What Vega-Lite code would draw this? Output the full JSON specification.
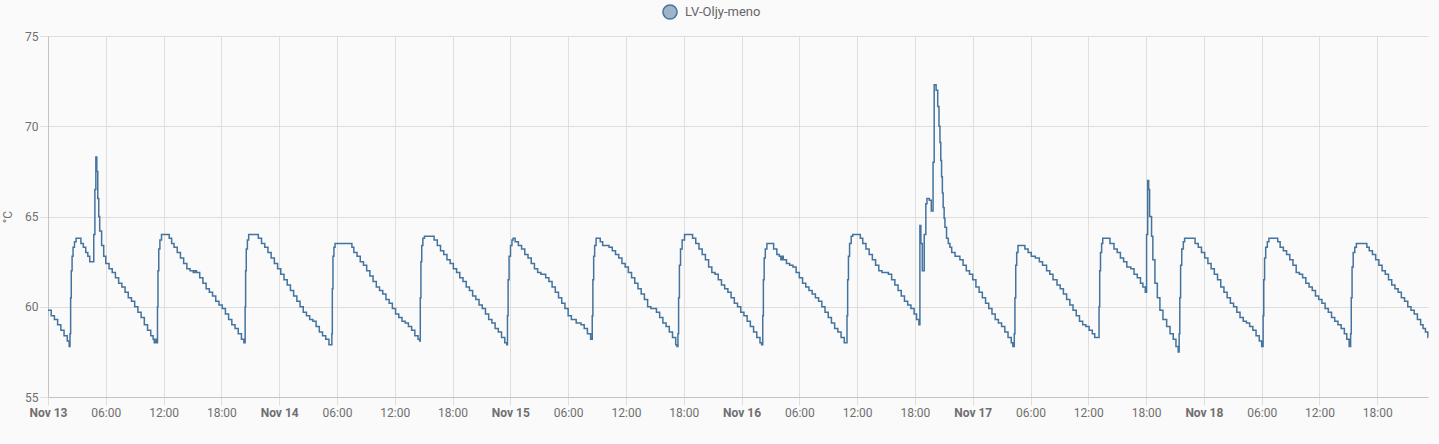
{
  "autosize": {"type": "none"},
  "padding": {"left": 48, "top": 36, "right": 11, "bottom": 47},
  "width": 1380,
  "height": 361,
  "background": "#fafafa",
  "config": {
    "view": {"stroke": null},
    "font": "Roboto",
    "axis": {
      "labelFont": "Roboto",
      "labelFontSize": 12,
      "labelColor": "#6f6f6f",
      "titleFont": "Roboto",
      "titleFontSize": 12,
      "titleFontWeight": "normal",
      "titleColor": "#6f6f6f",
      "gridColor": "#dedede",
      "gridOpacity": 1,
      "tickColor": "#dedede",
      "domainColor": "#c4c4c4",
      "tickSize": 8,
      "labelPadding": 2
    }
  },
  "data": {
    "values": [
      {"s": "LV-Oljy-meno", "t": "2023-11-13T00:00", "v": 59.8}, {"s": "LV-Oljy-meno", "t": "2023-11-13T00:20", "v": 59.5}, {"s": "LV-Oljy-meno", "t": "2023-11-13T00:40", "v": 59.3}, {"s": "LV-Oljy-meno", "t": "2023-11-13T01:00", "v": 59.0},
      {"s": "LV-Oljy-meno", "t": "2023-11-13T01:20", "v": 58.7}, {"s": "LV-Oljy-meno", "t": "2023-11-13T01:40", "v": 58.4}, {"s": "LV-Oljy-meno", "t": "2023-11-13T02:00", "v": 58.1}, {"s": "LV-Oljy-meno", "t": "2023-11-13T02:12", "v": 57.8},
      {"s": "LV-Oljy-meno", "t": "2023-11-13T02:17", "v": 58.5}, {"s": "LV-Oljy-meno", "t": "2023-11-13T02:21", "v": 60.5}, {"s": "LV-Oljy-meno", "t": "2023-11-13T02:25", "v": 62.0}, {"s": "LV-Oljy-meno", "t": "2023-11-13T02:30", "v": 62.8},
      {"s": "LV-Oljy-meno", "t": "2023-11-13T02:36", "v": 63.3}, {"s": "LV-Oljy-meno", "t": "2023-11-13T02:45", "v": 63.6}, {"s": "LV-Oljy-meno", "t": "2023-11-13T02:55", "v": 63.8}, {"s": "LV-Oljy-meno", "t": "2023-11-13T03:25", "v": 63.5},
      {"s": "LV-Oljy-meno", "t": "2023-11-13T03:40", "v": 63.3}, {"s": "LV-Oljy-meno", "t": "2023-11-13T03:55", "v": 63.0}, {"s": "LV-Oljy-meno", "t": "2023-11-13T04:08", "v": 62.8}, {"s": "LV-Oljy-meno", "t": "2023-11-13T04:20", "v": 62.5},
      {"s": "LV-Oljy-meno", "t": "2023-11-13T04:45", "v": 64.0}, {"s": "LV-Oljy-meno", "t": "2023-11-13T04:52", "v": 66.5}, {"s": "LV-Oljy-meno", "t": "2023-11-13T04:58", "v": 68.3}, {"s": "LV-Oljy-meno", "t": "2023-11-13T05:04", "v": 67.5},
      {"s": "LV-Oljy-meno", "t": "2023-11-13T05:10", "v": 66.0}, {"s": "LV-Oljy-meno", "t": "2023-11-13T05:16", "v": 65.0}, {"s": "LV-Oljy-meno", "t": "2023-11-13T05:22", "v": 64.2}, {"s": "LV-Oljy-meno", "t": "2023-11-13T05:34", "v": 63.4},
      {"s": "LV-Oljy-meno", "t": "2023-11-13T05:47", "v": 62.8}, {"s": "LV-Oljy-meno", "t": "2023-11-13T06:00", "v": 62.4}, {"s": "LV-Oljy-meno", "t": "2023-11-13T06:20", "v": 62.1}, {"s": "LV-Oljy-meno", "t": "2023-11-13T06:40", "v": 61.9},
      {"s": "LV-Oljy-meno", "t": "2023-11-13T07:00", "v": 61.6}, {"s": "LV-Oljy-meno", "t": "2023-11-13T07:20", "v": 61.3}, {"s": "LV-Oljy-meno", "t": "2023-11-13T07:40", "v": 61.1}, {"s": "LV-Oljy-meno", "t": "2023-11-13T08:00", "v": 60.8},
      {"s": "LV-Oljy-meno", "t": "2023-11-13T08:20", "v": 60.5}, {"s": "LV-Oljy-meno", "t": "2023-11-13T08:40", "v": 60.3}, {"s": "LV-Oljy-meno", "t": "2023-11-13T09:00", "v": 60.0}, {"s": "LV-Oljy-meno", "t": "2023-11-13T09:20", "v": 59.7},
      {"s": "LV-Oljy-meno", "t": "2023-11-13T09:40", "v": 59.4}, {"s": "LV-Oljy-meno", "t": "2023-11-13T10:00", "v": 59.0}, {"s": "LV-Oljy-meno", "t": "2023-11-13T10:20", "v": 58.7}, {"s": "LV-Oljy-meno", "t": "2023-11-13T10:40", "v": 58.4},
      {"s": "LV-Oljy-meno", "t": "2023-11-13T10:55", "v": 58.2}, {"s": "LV-Oljy-meno", "t": "2023-11-13T11:02", "v": 58.0}, {"s": "LV-Oljy-meno", "t": "2023-11-13T11:08", "v": 58.2}, {"s": "LV-Oljy-meno", "t": "2023-11-13T11:13", "v": 58.0},
      {"s": "LV-Oljy-meno", "t": "2023-11-13T11:22", "v": 60.0}, {"s": "LV-Oljy-meno", "t": "2023-11-13T11:25", "v": 62.0}, {"s": "LV-Oljy-meno", "t": "2023-11-13T11:30", "v": 63.2}, {"s": "LV-Oljy-meno", "t": "2023-11-13T11:37", "v": 63.7},
      {"s": "LV-Oljy-meno", "t": "2023-11-13T11:47", "v": 64.0}, {"s": "LV-Oljy-meno", "t": "2023-11-13T12:35", "v": 63.8}, {"s": "LV-Oljy-meno", "t": "2023-11-13T12:50", "v": 63.5}, {"s": "LV-Oljy-meno", "t": "2023-11-13T13:05", "v": 63.3},
      {"s": "LV-Oljy-meno", "t": "2023-11-13T13:25", "v": 63.0}, {"s": "LV-Oljy-meno", "t": "2023-11-13T13:45", "v": 62.7}, {"s": "LV-Oljy-meno", "t": "2023-11-13T14:05", "v": 62.4}, {"s": "LV-Oljy-meno", "t": "2023-11-13T14:25", "v": 62.1},
      {"s": "LV-Oljy-meno", "t": "2023-11-13T14:45", "v": 62.0}, {"s": "LV-Oljy-meno", "t": "2023-11-13T15:05", "v": 61.9}, {"s": "LV-Oljy-meno", "t": "2023-11-13T15:15", "v": 62.0}, {"s": "LV-Oljy-meno", "t": "2023-11-13T15:25", "v": 61.9},
      {"s": "LV-Oljy-meno", "t": "2023-11-13T15:45", "v": 61.6}, {"s": "LV-Oljy-meno", "t": "2023-11-13T16:05", "v": 61.3}, {"s": "LV-Oljy-meno", "t": "2023-11-13T16:25", "v": 61.0}, {"s": "LV-Oljy-meno", "t": "2023-11-13T16:45", "v": 60.8},
      {"s": "LV-Oljy-meno", "t": "2023-11-13T17:05", "v": 60.6}, {"s": "LV-Oljy-meno", "t": "2023-11-13T17:25", "v": 60.3}, {"s": "LV-Oljy-meno", "t": "2023-11-13T17:45", "v": 60.1}, {"s": "LV-Oljy-meno", "t": "2023-11-13T18:05", "v": 59.9},
      {"s": "LV-Oljy-meno", "t": "2023-11-13T18:25", "v": 59.6}, {"s": "LV-Oljy-meno", "t": "2023-11-13T18:45", "v": 59.3}, {"s": "LV-Oljy-meno", "t": "2023-11-13T19:05", "v": 59.0}, {"s": "LV-Oljy-meno", "t": "2023-11-13T19:25", "v": 58.8},
      {"s": "LV-Oljy-meno", "t": "2023-11-13T19:45", "v": 58.5}, {"s": "LV-Oljy-meno", "t": "2023-11-13T20:05", "v": 58.2}, {"s": "LV-Oljy-meno", "t": "2023-11-13T20:20", "v": 58.0}, {"s": "LV-Oljy-meno", "t": "2023-11-13T20:28", "v": 60.0},
      {"s": "LV-Oljy-meno", "t": "2023-11-13T20:31", "v": 62.0}, {"s": "LV-Oljy-meno", "t": "2023-11-13T20:35", "v": 63.2}, {"s": "LV-Oljy-meno", "t": "2023-11-13T20:42", "v": 63.7}, {"s": "LV-Oljy-meno", "t": "2023-11-13T20:50", "v": 64.0},
      {"s": "LV-Oljy-meno", "t": "2023-11-13T21:50", "v": 63.8}, {"s": "LV-Oljy-meno", "t": "2023-11-13T22:10", "v": 63.5}, {"s": "LV-Oljy-meno", "t": "2023-11-13T22:30", "v": 63.3}, {"s": "LV-Oljy-meno", "t": "2023-11-13T22:50", "v": 63.0},
      {"s": "LV-Oljy-meno", "t": "2023-11-13T23:10", "v": 62.7}, {"s": "LV-Oljy-meno", "t": "2023-11-13T23:30", "v": 62.4}, {"s": "LV-Oljy-meno", "t": "2023-11-13T23:50", "v": 62.1}, {"s": "LV-Oljy-meno", "t": "2023-11-14T00:10", "v": 61.8},
      {"s": "LV-Oljy-meno", "t": "2023-11-14T00:30", "v": 61.5}, {"s": "LV-Oljy-meno", "t": "2023-11-14T00:50", "v": 61.2}, {"s": "LV-Oljy-meno", "t": "2023-11-14T01:10", "v": 60.9}, {"s": "LV-Oljy-meno", "t": "2023-11-14T01:30", "v": 60.6},
      {"s": "LV-Oljy-meno", "t": "2023-11-14T01:50", "v": 60.3}, {"s": "LV-Oljy-meno", "t": "2023-11-14T02:10", "v": 60.0}, {"s": "LV-Oljy-meno", "t": "2023-11-14T02:30", "v": 59.7}, {"s": "LV-Oljy-meno", "t": "2023-11-14T02:50", "v": 59.5},
      {"s": "LV-Oljy-meno", "t": "2023-11-14T03:10", "v": 59.3}, {"s": "LV-Oljy-meno", "t": "2023-11-14T03:30", "v": 59.2}, {"s": "LV-Oljy-meno", "t": "2023-11-14T03:50", "v": 58.9}, {"s": "LV-Oljy-meno", "t": "2023-11-14T04:10", "v": 58.6},
      {"s": "LV-Oljy-meno", "t": "2023-11-14T04:30", "v": 58.4}, {"s": "LV-Oljy-meno", "t": "2023-11-14T04:50", "v": 58.2}, {"s": "LV-Oljy-meno", "t": "2023-11-14T05:10", "v": 57.9}, {"s": "LV-Oljy-meno", "t": "2023-11-14T05:28", "v": 58.5},
      {"s": "LV-Oljy-meno", "t": "2023-11-14T05:31", "v": 61.0}, {"s": "LV-Oljy-meno", "t": "2023-11-14T05:35", "v": 62.8}, {"s": "LV-Oljy-meno", "t": "2023-11-14T05:41", "v": 63.3}, {"s": "LV-Oljy-meno", "t": "2023-11-14T05:48", "v": 63.5},
      {"s": "LV-Oljy-meno", "t": "2023-11-14T07:33", "v": 63.3}, {"s": "LV-Oljy-meno", "t": "2023-11-14T07:45", "v": 63.0}, {"s": "LV-Oljy-meno", "t": "2023-11-14T08:05", "v": 62.8}, {"s": "LV-Oljy-meno", "t": "2023-11-14T08:25", "v": 62.5},
      {"s": "LV-Oljy-meno", "t": "2023-11-14T08:45", "v": 62.3}, {"s": "LV-Oljy-meno", "t": "2023-11-14T09:05", "v": 62.0}, {"s": "LV-Oljy-meno", "t": "2023-11-14T09:25", "v": 61.7}, {"s": "LV-Oljy-meno", "t": "2023-11-14T09:45", "v": 61.4},
      {"s": "LV-Oljy-meno", "t": "2023-11-14T10:05", "v": 61.1}, {"s": "LV-Oljy-meno", "t": "2023-11-14T10:25", "v": 60.9}, {"s": "LV-Oljy-meno", "t": "2023-11-14T10:45", "v": 60.7}, {"s": "LV-Oljy-meno", "t": "2023-11-14T11:05", "v": 60.4},
      {"s": "LV-Oljy-meno", "t": "2023-11-14T11:25", "v": 60.2}, {"s": "LV-Oljy-meno", "t": "2023-11-14T11:45", "v": 59.9}, {"s": "LV-Oljy-meno", "t": "2023-11-14T12:05", "v": 59.6}, {"s": "LV-Oljy-meno", "t": "2023-11-14T12:25", "v": 59.4},
      {"s": "LV-Oljy-meno", "t": "2023-11-14T12:45", "v": 59.2}, {"s": "LV-Oljy-meno", "t": "2023-11-14T13:05", "v": 59.1}, {"s": "LV-Oljy-meno", "t": "2023-11-14T13:25", "v": 58.9}, {"s": "LV-Oljy-meno", "t": "2023-11-14T13:45", "v": 58.7},
      {"s": "LV-Oljy-meno", "t": "2023-11-14T14:05", "v": 58.4}, {"s": "LV-Oljy-meno", "t": "2023-11-14T14:25", "v": 58.2}, {"s": "LV-Oljy-meno", "t": "2023-11-14T14:35", "v": 58.1}, {"s": "LV-Oljy-meno", "t": "2023-11-14T14:39", "v": 60.5},
      {"s": "LV-Oljy-meno", "t": "2023-11-14T14:43", "v": 62.5}, {"s": "LV-Oljy-meno", "t": "2023-11-14T14:48", "v": 63.4}, {"s": "LV-Oljy-meno", "t": "2023-11-14T14:55", "v": 63.8}, {"s": "LV-Oljy-meno", "t": "2023-11-14T15:05", "v": 63.9},
      {"s": "LV-Oljy-meno", "t": "2023-11-14T16:05", "v": 63.7}, {"s": "LV-Oljy-meno", "t": "2023-11-14T16:25", "v": 63.4}, {"s": "LV-Oljy-meno", "t": "2023-11-14T16:45", "v": 63.1}, {"s": "LV-Oljy-meno", "t": "2023-11-14T17:05", "v": 62.9},
      {"s": "LV-Oljy-meno", "t": "2023-11-14T17:25", "v": 62.6}, {"s": "LV-Oljy-meno", "t": "2023-11-14T17:45", "v": 62.4}, {"s": "LV-Oljy-meno", "t": "2023-11-14T18:05", "v": 62.1}, {"s": "LV-Oljy-meno", "t": "2023-11-14T18:25", "v": 61.9},
      {"s": "LV-Oljy-meno", "t": "2023-11-14T18:45", "v": 61.6}, {"s": "LV-Oljy-meno", "t": "2023-11-14T19:05", "v": 61.4}, {"s": "LV-Oljy-meno", "t": "2023-11-14T19:25", "v": 61.1}, {"s": "LV-Oljy-meno", "t": "2023-11-14T19:45", "v": 60.9},
      {"s": "LV-Oljy-meno", "t": "2023-11-14T20:05", "v": 60.6}, {"s": "LV-Oljy-meno", "t": "2023-11-14T20:25", "v": 60.4}, {"s": "LV-Oljy-meno", "t": "2023-11-14T20:45", "v": 60.1}, {"s": "LV-Oljy-meno", "t": "2023-11-14T21:05", "v": 59.9},
      {"s": "LV-Oljy-meno", "t": "2023-11-14T21:25", "v": 59.6}, {"s": "LV-Oljy-meno", "t": "2023-11-14T21:45", "v": 59.3}, {"s": "LV-Oljy-meno", "t": "2023-11-14T22:05", "v": 59.1}, {"s": "LV-Oljy-meno", "t": "2023-11-14T22:25", "v": 58.8},
      {"s": "LV-Oljy-meno", "t": "2023-11-14T22:45", "v": 58.6}, {"s": "LV-Oljy-meno", "t": "2023-11-14T23:05", "v": 58.3}, {"s": "LV-Oljy-meno", "t": "2023-11-14T23:25", "v": 58.0}, {"s": "LV-Oljy-meno", "t": "2023-11-14T23:38", "v": 57.9},
      {"s": "LV-Oljy-meno", "t": "2023-11-14T23:42", "v": 59.5}, {"s": "LV-Oljy-meno", "t": "2023-11-14T23:46", "v": 61.5}, {"s": "LV-Oljy-meno", "t": "2023-11-14T23:52", "v": 62.8}, {"s": "LV-Oljy-meno", "t": "2023-11-15T00:01", "v": 63.4},
      {"s": "LV-Oljy-meno", "t": "2023-11-15T00:10", "v": 63.7}, {"s": "LV-Oljy-meno", "t": "2023-11-15T00:17", "v": 63.8}, {"s": "LV-Oljy-meno", "t": "2023-11-15T00:30", "v": 63.6}, {"s": "LV-Oljy-meno", "t": "2023-11-15T00:50", "v": 63.4},
      {"s": "LV-Oljy-meno", "t": "2023-11-15T01:10", "v": 63.2}, {"s": "LV-Oljy-meno", "t": "2023-11-15T01:30", "v": 62.9}, {"s": "LV-Oljy-meno", "t": "2023-11-15T01:50", "v": 62.7}, {"s": "LV-Oljy-meno", "t": "2023-11-15T02:10", "v": 62.4},
      {"s": "LV-Oljy-meno", "t": "2023-11-15T02:30", "v": 62.1}, {"s": "LV-Oljy-meno", "t": "2023-11-15T02:50", "v": 61.9}, {"s": "LV-Oljy-meno", "t": "2023-11-15T03:10", "v": 61.8}, {"s": "LV-Oljy-meno", "t": "2023-11-15T03:40", "v": 61.6},
      {"s": "LV-Oljy-meno", "t": "2023-11-15T04:00", "v": 61.4}, {"s": "LV-Oljy-meno", "t": "2023-11-15T04:20", "v": 61.1}, {"s": "LV-Oljy-meno", "t": "2023-11-15T04:40", "v": 60.8}, {"s": "LV-Oljy-meno", "t": "2023-11-15T05:00", "v": 60.5},
      {"s": "LV-Oljy-meno", "t": "2023-11-15T05:20", "v": 60.2}, {"s": "LV-Oljy-meno", "t": "2023-11-15T05:40", "v": 59.9}, {"s": "LV-Oljy-meno", "t": "2023-11-15T06:00", "v": 59.5}, {"s": "LV-Oljy-meno", "t": "2023-11-15T06:20", "v": 59.3},
      {"s": "LV-Oljy-meno", "t": "2023-11-15T06:50", "v": 59.1}, {"s": "LV-Oljy-meno", "t": "2023-11-15T07:20", "v": 59.0}, {"s": "LV-Oljy-meno", "t": "2023-11-15T07:40", "v": 58.8}, {"s": "LV-Oljy-meno", "t": "2023-11-15T08:00", "v": 58.5},
      {"s": "LV-Oljy-meno", "t": "2023-11-15T08:20", "v": 58.2}, {"s": "LV-Oljy-meno", "t": "2023-11-15T08:30", "v": 59.5}, {"s": "LV-Oljy-meno", "t": "2023-11-15T08:34", "v": 61.5}, {"s": "LV-Oljy-meno", "t": "2023-11-15T08:39", "v": 62.8},
      {"s": "LV-Oljy-meno", "t": "2023-11-15T08:45", "v": 63.4}, {"s": "LV-Oljy-meno", "t": "2023-11-15T08:54", "v": 63.8}, {"s": "LV-Oljy-meno", "t": "2023-11-15T09:20", "v": 63.6}, {"s": "LV-Oljy-meno", "t": "2023-11-15T09:35", "v": 63.4},
      {"s": "LV-Oljy-meno", "t": "2023-11-15T10:15", "v": 63.3}, {"s": "LV-Oljy-meno", "t": "2023-11-15T10:35", "v": 63.1}, {"s": "LV-Oljy-meno", "t": "2023-11-15T10:55", "v": 62.9}, {"s": "LV-Oljy-meno", "t": "2023-11-15T11:15", "v": 62.7},
      {"s": "LV-Oljy-meno", "t": "2023-11-15T11:35", "v": 62.4}, {"s": "LV-Oljy-meno", "t": "2023-11-15T11:55", "v": 62.2}, {"s": "LV-Oljy-meno", "t": "2023-11-15T12:15", "v": 61.9}, {"s": "LV-Oljy-meno", "t": "2023-11-15T12:35", "v": 61.6},
      {"s": "LV-Oljy-meno", "t": "2023-11-15T12:55", "v": 61.3}, {"s": "LV-Oljy-meno", "t": "2023-11-15T13:15", "v": 61.0}, {"s": "LV-Oljy-meno", "t": "2023-11-15T13:35", "v": 60.7}, {"s": "LV-Oljy-meno", "t": "2023-11-15T13:55", "v": 60.4},
      {"s": "LV-Oljy-meno", "t": "2023-11-15T14:15", "v": 60.0}, {"s": "LV-Oljy-meno", "t": "2023-11-15T14:35", "v": 59.9}, {"s": "LV-Oljy-meno", "t": "2023-11-15T15:10", "v": 59.7}, {"s": "LV-Oljy-meno", "t": "2023-11-15T15:30", "v": 59.4},
      {"s": "LV-Oljy-meno", "t": "2023-11-15T15:50", "v": 59.1}, {"s": "LV-Oljy-meno", "t": "2023-11-15T16:10", "v": 58.9}, {"s": "LV-Oljy-meno", "t": "2023-11-15T16:30", "v": 58.6}, {"s": "LV-Oljy-meno", "t": "2023-11-15T16:50", "v": 58.3},
      {"s": "LV-Oljy-meno", "t": "2023-11-15T17:10", "v": 57.9}, {"s": "LV-Oljy-meno", "t": "2023-11-15T17:18", "v": 57.8}, {"s": "LV-Oljy-meno", "t": "2023-11-15T17:24", "v": 58.5}, {"s": "LV-Oljy-meno", "t": "2023-11-15T17:28", "v": 60.5},
      {"s": "LV-Oljy-meno", "t": "2023-11-15T17:33", "v": 62.3}, {"s": "LV-Oljy-meno", "t": "2023-11-15T17:40", "v": 63.2}, {"s": "LV-Oljy-meno", "t": "2023-11-15T17:50", "v": 63.7}, {"s": "LV-Oljy-meno", "t": "2023-11-15T18:05", "v": 64.0},
      {"s": "LV-Oljy-meno", "t": "2023-11-15T18:55", "v": 63.8}, {"s": "LV-Oljy-meno", "t": "2023-11-15T19:15", "v": 63.5}, {"s": "LV-Oljy-meno", "t": "2023-11-15T19:35", "v": 63.2}, {"s": "LV-Oljy-meno", "t": "2023-11-15T19:55", "v": 62.9},
      {"s": "LV-Oljy-meno", "t": "2023-11-15T20:15", "v": 62.6}, {"s": "LV-Oljy-meno", "t": "2023-11-15T20:35", "v": 62.2}, {"s": "LV-Oljy-meno", "t": "2023-11-15T20:55", "v": 61.9}, {"s": "LV-Oljy-meno", "t": "2023-11-15T21:15", "v": 61.8},
      {"s": "LV-Oljy-meno", "t": "2023-11-15T21:35", "v": 61.5}, {"s": "LV-Oljy-meno", "t": "2023-11-15T21:55", "v": 61.2}, {"s": "LV-Oljy-meno", "t": "2023-11-15T22:15", "v": 61.0}, {"s": "LV-Oljy-meno", "t": "2023-11-15T22:35", "v": 60.8},
      {"s": "LV-Oljy-meno", "t": "2023-11-15T22:55", "v": 60.5}, {"s": "LV-Oljy-meno", "t": "2023-11-15T23:15", "v": 60.2}, {"s": "LV-Oljy-meno", "t": "2023-11-15T23:35", "v": 60.0}, {"s": "LV-Oljy-meno", "t": "2023-11-15T23:55", "v": 59.7},
      {"s": "LV-Oljy-meno", "t": "2023-11-16T00:15", "v": 59.5}, {"s": "LV-Oljy-meno", "t": "2023-11-16T00:35", "v": 59.2}, {"s": "LV-Oljy-meno", "t": "2023-11-16T00:55", "v": 58.9}, {"s": "LV-Oljy-meno", "t": "2023-11-16T01:15", "v": 58.6},
      {"s": "LV-Oljy-meno", "t": "2023-11-16T01:35", "v": 58.3}, {"s": "LV-Oljy-meno", "t": "2023-11-16T01:55", "v": 58.0}, {"s": "LV-Oljy-meno", "t": "2023-11-16T02:05", "v": 57.9}, {"s": "LV-Oljy-meno", "t": "2023-11-16T02:12", "v": 59.5},
      {"s": "LV-Oljy-meno", "t": "2023-11-16T02:16", "v": 61.5}, {"s": "LV-Oljy-meno", "t": "2023-11-16T02:21", "v": 62.7}, {"s": "LV-Oljy-meno", "t": "2023-11-16T02:28", "v": 63.2}, {"s": "LV-Oljy-meno", "t": "2023-11-16T02:38", "v": 63.5},
      {"s": "LV-Oljy-meno", "t": "2023-11-16T03:20", "v": 63.2}, {"s": "LV-Oljy-meno", "t": "2023-11-16T03:40", "v": 62.9}, {"s": "LV-Oljy-meno", "t": "2023-11-16T03:55", "v": 62.8}, {"s": "LV-Oljy-meno", "t": "2023-11-16T04:05", "v": 62.6},
      {"s": "LV-Oljy-meno", "t": "2023-11-16T04:12", "v": 62.8}, {"s": "LV-Oljy-meno", "t": "2023-11-16T04:20", "v": 62.6}, {"s": "LV-Oljy-meno", "t": "2023-11-16T04:40", "v": 62.4}, {"s": "LV-Oljy-meno", "t": "2023-11-16T05:00", "v": 62.3},
      {"s": "LV-Oljy-meno", "t": "2023-11-16T05:20", "v": 62.2}, {"s": "LV-Oljy-meno", "t": "2023-11-16T05:40", "v": 61.9}, {"s": "LV-Oljy-meno", "t": "2023-11-16T06:00", "v": 61.6}, {"s": "LV-Oljy-meno", "t": "2023-11-16T06:20", "v": 61.3},
      {"s": "LV-Oljy-meno", "t": "2023-11-16T06:40", "v": 61.1}, {"s": "LV-Oljy-meno", "t": "2023-11-16T07:00", "v": 60.9}, {"s": "LV-Oljy-meno", "t": "2023-11-16T07:20", "v": 60.7}, {"s": "LV-Oljy-meno", "t": "2023-11-16T07:40", "v": 60.5},
      {"s": "LV-Oljy-meno", "t": "2023-11-16T08:00", "v": 60.3}, {"s": "LV-Oljy-meno", "t": "2023-11-16T08:20", "v": 60.0}, {"s": "LV-Oljy-meno", "t": "2023-11-16T08:40", "v": 59.7}, {"s": "LV-Oljy-meno", "t": "2023-11-16T09:00", "v": 59.4},
      {"s": "LV-Oljy-meno", "t": "2023-11-16T09:20", "v": 59.1}, {"s": "LV-Oljy-meno", "t": "2023-11-16T09:40", "v": 58.8}, {"s": "LV-Oljy-meno", "t": "2023-11-16T10:00", "v": 58.6}, {"s": "LV-Oljy-meno", "t": "2023-11-16T10:20", "v": 58.3},
      {"s": "LV-Oljy-meno", "t": "2023-11-16T10:40", "v": 58.0}, {"s": "LV-Oljy-meno", "t": "2023-11-16T10:57", "v": 59.5}, {"s": "LV-Oljy-meno", "t": "2023-11-16T11:01", "v": 61.5}, {"s": "LV-Oljy-meno", "t": "2023-11-16T11:06", "v": 62.8},
      {"s": "LV-Oljy-meno", "t": "2023-11-16T11:13", "v": 63.5}, {"s": "LV-Oljy-meno", "t": "2023-11-16T11:23", "v": 63.9}, {"s": "LV-Oljy-meno", "t": "2023-11-16T11:33", "v": 64.0}, {"s": "LV-Oljy-meno", "t": "2023-11-16T12:20", "v": 63.8},
      {"s": "LV-Oljy-meno", "t": "2023-11-16T12:35", "v": 63.5}, {"s": "LV-Oljy-meno", "t": "2023-11-16T12:55", "v": 63.2}, {"s": "LV-Oljy-meno", "t": "2023-11-16T13:15", "v": 62.9}, {"s": "LV-Oljy-meno", "t": "2023-11-16T13:35", "v": 62.6},
      {"s": "LV-Oljy-meno", "t": "2023-11-16T13:55", "v": 62.3}, {"s": "LV-Oljy-meno", "t": "2023-11-16T14:15", "v": 62.0}, {"s": "LV-Oljy-meno", "t": "2023-11-16T14:35", "v": 61.9}, {"s": "LV-Oljy-meno", "t": "2023-11-16T15:15", "v": 61.8},
      {"s": "LV-Oljy-meno", "t": "2023-11-16T15:35", "v": 61.5}, {"s": "LV-Oljy-meno", "t": "2023-11-16T15:55", "v": 61.2}, {"s": "LV-Oljy-meno", "t": "2023-11-16T16:15", "v": 60.9}, {"s": "LV-Oljy-meno", "t": "2023-11-16T16:35", "v": 60.6},
      {"s": "LV-Oljy-meno", "t": "2023-11-16T16:55", "v": 60.3}, {"s": "LV-Oljy-meno", "t": "2023-11-16T17:15", "v": 60.1}, {"s": "LV-Oljy-meno", "t": "2023-11-16T17:35", "v": 59.9}, {"s": "LV-Oljy-meno", "t": "2023-11-16T17:55", "v": 59.6},
      {"s": "LV-Oljy-meno", "t": "2023-11-16T18:10", "v": 59.3}, {"s": "LV-Oljy-meno", "t": "2023-11-16T18:25", "v": 59.0}, {"s": "LV-Oljy-meno", "t": "2023-11-16T18:31", "v": 64.5}, {"s": "LV-Oljy-meno", "t": "2023-11-16T18:37", "v": 63.5},
      {"s": "LV-Oljy-meno", "t": "2023-11-16T18:46", "v": 62.0}, {"s": "LV-Oljy-meno", "t": "2023-11-16T18:58", "v": 64.0}, {"s": "LV-Oljy-meno", "t": "2023-11-16T19:08", "v": 65.7}, {"s": "LV-Oljy-meno", "t": "2023-11-16T19:15", "v": 66.0},
      {"s": "LV-Oljy-meno", "t": "2023-11-16T19:30", "v": 65.9}, {"s": "LV-Oljy-meno", "t": "2023-11-16T19:42", "v": 65.3}, {"s": "LV-Oljy-meno", "t": "2023-11-16T19:53", "v": 68.0}, {"s": "LV-Oljy-meno", "t": "2023-11-16T20:00", "v": 72.3},
      {"s": "LV-Oljy-meno", "t": "2023-11-16T20:12", "v": 72.0}, {"s": "LV-Oljy-meno", "t": "2023-11-16T20:22", "v": 71.1}, {"s": "LV-Oljy-meno", "t": "2023-11-16T20:30", "v": 70.0}, {"s": "LV-Oljy-meno", "t": "2023-11-16T20:36", "v": 69.1},
      {"s": "LV-Oljy-meno", "t": "2023-11-16T20:41", "v": 68.1}, {"s": "LV-Oljy-meno", "t": "2023-11-16T20:46", "v": 67.2}, {"s": "LV-Oljy-meno", "t": "2023-11-16T20:51", "v": 66.3}, {"s": "LV-Oljy-meno", "t": "2023-11-16T20:56", "v": 65.5},
      {"s": "LV-Oljy-meno", "t": "2023-11-16T21:02", "v": 64.9}, {"s": "LV-Oljy-meno", "t": "2023-11-16T21:07", "v": 64.4}, {"s": "LV-Oljy-meno", "t": "2023-11-16T21:17", "v": 63.8}, {"s": "LV-Oljy-meno", "t": "2023-11-16T21:28", "v": 63.5},
      {"s": "LV-Oljy-meno", "t": "2023-11-16T21:38", "v": 63.3}, {"s": "LV-Oljy-meno", "t": "2023-11-16T21:49", "v": 63.0}, {"s": "LV-Oljy-meno", "t": "2023-11-16T22:10", "v": 62.8}, {"s": "LV-Oljy-meno", "t": "2023-11-16T22:40", "v": 62.6},
      {"s": "LV-Oljy-meno", "t": "2023-11-16T23:00", "v": 62.3}, {"s": "LV-Oljy-meno", "t": "2023-11-16T23:20", "v": 62.0}, {"s": "LV-Oljy-meno", "t": "2023-11-16T23:40", "v": 61.8}, {"s": "LV-Oljy-meno", "t": "2023-11-17T00:00", "v": 61.5},
      {"s": "LV-Oljy-meno", "t": "2023-11-17T00:20", "v": 61.1}, {"s": "LV-Oljy-meno", "t": "2023-11-17T00:40", "v": 60.8}, {"s": "LV-Oljy-meno", "t": "2023-11-17T01:00", "v": 60.5}, {"s": "LV-Oljy-meno", "t": "2023-11-17T01:20", "v": 60.2},
      {"s": "LV-Oljy-meno", "t": "2023-11-17T01:40", "v": 59.9}, {"s": "LV-Oljy-meno", "t": "2023-11-17T02:00", "v": 59.6}, {"s": "LV-Oljy-meno", "t": "2023-11-17T02:20", "v": 59.3}, {"s": "LV-Oljy-meno", "t": "2023-11-17T02:40", "v": 59.1},
      {"s": "LV-Oljy-meno", "t": "2023-11-17T03:00", "v": 58.9}, {"s": "LV-Oljy-meno", "t": "2023-11-17T03:20", "v": 58.6}, {"s": "LV-Oljy-meno", "t": "2023-11-17T03:40", "v": 58.3}, {"s": "LV-Oljy-meno", "t": "2023-11-17T04:00", "v": 58.0},
      {"s": "LV-Oljy-meno", "t": "2023-11-17T04:10", "v": 57.8}, {"s": "LV-Oljy-meno", "t": "2023-11-17T04:19", "v": 58.5}, {"s": "LV-Oljy-meno", "t": "2023-11-17T04:23", "v": 60.5}, {"s": "LV-Oljy-meno", "t": "2023-11-17T04:28", "v": 62.3},
      {"s": "LV-Oljy-meno", "t": "2023-11-17T04:34", "v": 63.0}, {"s": "LV-Oljy-meno", "t": "2023-11-17T04:42", "v": 63.4}, {"s": "LV-Oljy-meno", "t": "2023-11-17T05:25", "v": 63.2}, {"s": "LV-Oljy-meno", "t": "2023-11-17T05:45", "v": 63.0},
      {"s": "LV-Oljy-meno", "t": "2023-11-17T06:05", "v": 62.8}, {"s": "LV-Oljy-meno", "t": "2023-11-17T06:30", "v": 62.7}, {"s": "LV-Oljy-meno", "t": "2023-11-17T06:55", "v": 62.5}, {"s": "LV-Oljy-meno", "t": "2023-11-17T07:15", "v": 62.3},
      {"s": "LV-Oljy-meno", "t": "2023-11-17T07:40", "v": 62.0}, {"s": "LV-Oljy-meno", "t": "2023-11-17T08:00", "v": 61.8}, {"s": "LV-Oljy-meno", "t": "2023-11-17T08:20", "v": 61.5}, {"s": "LV-Oljy-meno", "t": "2023-11-17T08:45", "v": 61.2},
      {"s": "LV-Oljy-meno", "t": "2023-11-17T09:05", "v": 61.0}, {"s": "LV-Oljy-meno", "t": "2023-11-17T09:25", "v": 60.7}, {"s": "LV-Oljy-meno", "t": "2023-11-17T09:45", "v": 60.4}, {"s": "LV-Oljy-meno", "t": "2023-11-17T10:05", "v": 60.1},
      {"s": "LV-Oljy-meno", "t": "2023-11-17T10:25", "v": 59.8}, {"s": "LV-Oljy-meno", "t": "2023-11-17T10:45", "v": 59.5}, {"s": "LV-Oljy-meno", "t": "2023-11-17T11:05", "v": 59.2}, {"s": "LV-Oljy-meno", "t": "2023-11-17T11:25", "v": 59.0},
      {"s": "LV-Oljy-meno", "t": "2023-11-17T11:45", "v": 58.9}, {"s": "LV-Oljy-meno", "t": "2023-11-17T12:05", "v": 58.7}, {"s": "LV-Oljy-meno", "t": "2023-11-17T12:25", "v": 58.5}, {"s": "LV-Oljy-meno", "t": "2023-11-17T12:40", "v": 58.3},
      {"s": "LV-Oljy-meno", "t": "2023-11-17T13:07", "v": 60.0}, {"s": "LV-Oljy-meno", "t": "2023-11-17T13:11", "v": 62.0}, {"s": "LV-Oljy-meno", "t": "2023-11-17T13:16", "v": 63.0}, {"s": "LV-Oljy-meno", "t": "2023-11-17T13:23", "v": 63.5},
      {"s": "LV-Oljy-meno", "t": "2023-11-17T13:30", "v": 63.8}, {"s": "LV-Oljy-meno", "t": "2023-11-17T14:15", "v": 63.5}, {"s": "LV-Oljy-meno", "t": "2023-11-17T14:40", "v": 63.2}, {"s": "LV-Oljy-meno", "t": "2023-11-17T15:00", "v": 63.0},
      {"s": "LV-Oljy-meno", "t": "2023-11-17T15:20", "v": 62.7}, {"s": "LV-Oljy-meno", "t": "2023-11-17T15:40", "v": 62.5}, {"s": "LV-Oljy-meno", "t": "2023-11-17T16:00", "v": 62.2}, {"s": "LV-Oljy-meno", "t": "2023-11-17T16:25", "v": 62.1},
      {"s": "LV-Oljy-meno", "t": "2023-11-17T16:45", "v": 61.8}, {"s": "LV-Oljy-meno", "t": "2023-11-17T17:05", "v": 61.6}, {"s": "LV-Oljy-meno", "t": "2023-11-17T17:25", "v": 61.3}, {"s": "LV-Oljy-meno", "t": "2023-11-17T17:40", "v": 61.1},
      {"s": "LV-Oljy-meno", "t": "2023-11-17T17:55", "v": 60.8}, {"s": "LV-Oljy-meno", "t": "2023-11-17T18:03", "v": 64.0}, {"s": "LV-Oljy-meno", "t": "2023-11-17T18:10", "v": 67.0}, {"s": "LV-Oljy-meno", "t": "2023-11-17T18:16", "v": 66.5},
      {"s": "LV-Oljy-meno", "t": "2023-11-17T18:22", "v": 65.0}, {"s": "LV-Oljy-meno", "t": "2023-11-17T18:34", "v": 63.9}, {"s": "LV-Oljy-meno", "t": "2023-11-17T18:42", "v": 62.6}, {"s": "LV-Oljy-meno", "t": "2023-11-17T18:55", "v": 61.3},
      {"s": "LV-Oljy-meno", "t": "2023-11-17T19:10", "v": 60.5}, {"s": "LV-Oljy-meno", "t": "2023-11-17T19:26", "v": 59.8}, {"s": "LV-Oljy-meno", "t": "2023-11-17T19:45", "v": 59.3}, {"s": "LV-Oljy-meno", "t": "2023-11-17T20:08", "v": 58.9},
      {"s": "LV-Oljy-meno", "t": "2023-11-17T20:29", "v": 58.5}, {"s": "LV-Oljy-meno", "t": "2023-11-17T20:49", "v": 58.2}, {"s": "LV-Oljy-meno", "t": "2023-11-17T21:06", "v": 57.8}, {"s": "LV-Oljy-meno", "t": "2023-11-17T21:20", "v": 57.5},
      {"s": "LV-Oljy-meno", "t": "2023-11-17T21:26", "v": 58.5}, {"s": "LV-Oljy-meno", "t": "2023-11-17T21:30", "v": 60.5}, {"s": "LV-Oljy-meno", "t": "2023-11-17T21:35", "v": 62.3}, {"s": "LV-Oljy-meno", "t": "2023-11-17T21:42", "v": 63.2},
      {"s": "LV-Oljy-meno", "t": "2023-11-17T21:52", "v": 63.6}, {"s": "LV-Oljy-meno", "t": "2023-11-17T22:00", "v": 63.8}, {"s": "LV-Oljy-meno", "t": "2023-11-17T23:05", "v": 63.5}, {"s": "LV-Oljy-meno", "t": "2023-11-17T23:25", "v": 63.3},
      {"s": "LV-Oljy-meno", "t": "2023-11-17T23:45", "v": 63.0}, {"s": "LV-Oljy-meno", "t": "2023-11-18T00:05", "v": 62.7}, {"s": "LV-Oljy-meno", "t": "2023-11-18T00:25", "v": 62.4}, {"s": "LV-Oljy-meno", "t": "2023-11-18T00:45", "v": 62.1},
      {"s": "LV-Oljy-meno", "t": "2023-11-18T01:05", "v": 61.8}, {"s": "LV-Oljy-meno", "t": "2023-11-18T01:25", "v": 61.5}, {"s": "LV-Oljy-meno", "t": "2023-11-18T01:45", "v": 61.1}, {"s": "LV-Oljy-meno", "t": "2023-11-18T02:05", "v": 60.8},
      {"s": "LV-Oljy-meno", "t": "2023-11-18T02:25", "v": 60.5}, {"s": "LV-Oljy-meno", "t": "2023-11-18T02:45", "v": 60.2}, {"s": "LV-Oljy-meno", "t": "2023-11-18T03:05", "v": 60.0}, {"s": "LV-Oljy-meno", "t": "2023-11-18T03:25", "v": 59.7},
      {"s": "LV-Oljy-meno", "t": "2023-11-18T03:45", "v": 59.4}, {"s": "LV-Oljy-meno", "t": "2023-11-18T04:05", "v": 59.2}, {"s": "LV-Oljy-meno", "t": "2023-11-18T04:25", "v": 59.1}, {"s": "LV-Oljy-meno", "t": "2023-11-18T04:45", "v": 58.9},
      {"s": "LV-Oljy-meno", "t": "2023-11-18T05:05", "v": 58.7}, {"s": "LV-Oljy-meno", "t": "2023-11-18T05:25", "v": 58.4}, {"s": "LV-Oljy-meno", "t": "2023-11-18T05:45", "v": 58.1}, {"s": "LV-Oljy-meno", "t": "2023-11-18T06:00", "v": 57.8},
      {"s": "LV-Oljy-meno", "t": "2023-11-18T06:09", "v": 59.5}, {"s": "LV-Oljy-meno", "t": "2023-11-18T06:13", "v": 61.5}, {"s": "LV-Oljy-meno", "t": "2023-11-18T06:18", "v": 62.7}, {"s": "LV-Oljy-meno", "t": "2023-11-18T06:25", "v": 63.3},
      {"s": "LV-Oljy-meno", "t": "2023-11-18T06:35", "v": 63.6}, {"s": "LV-Oljy-meno", "t": "2023-11-18T06:45", "v": 63.8}, {"s": "LV-Oljy-meno", "t": "2023-11-18T07:40", "v": 63.6}, {"s": "LV-Oljy-meno", "t": "2023-11-18T07:55", "v": 63.3},
      {"s": "LV-Oljy-meno", "t": "2023-11-18T08:15", "v": 63.1}, {"s": "LV-Oljy-meno", "t": "2023-11-18T08:35", "v": 62.9}, {"s": "LV-Oljy-meno", "t": "2023-11-18T08:55", "v": 62.6}, {"s": "LV-Oljy-meno", "t": "2023-11-18T09:15", "v": 62.3},
      {"s": "LV-Oljy-meno", "t": "2023-11-18T09:35", "v": 61.9}, {"s": "LV-Oljy-meno", "t": "2023-11-18T09:55", "v": 61.8}, {"s": "LV-Oljy-meno", "t": "2023-11-18T10:15", "v": 61.6}, {"s": "LV-Oljy-meno", "t": "2023-11-18T10:35", "v": 61.3},
      {"s": "LV-Oljy-meno", "t": "2023-11-18T10:55", "v": 61.1}, {"s": "LV-Oljy-meno", "t": "2023-11-18T11:15", "v": 60.9}, {"s": "LV-Oljy-meno", "t": "2023-11-18T11:35", "v": 60.6}, {"s": "LV-Oljy-meno", "t": "2023-11-18T11:55", "v": 60.4},
      {"s": "LV-Oljy-meno", "t": "2023-11-18T12:15", "v": 60.2}, {"s": "LV-Oljy-meno", "t": "2023-11-18T12:35", "v": 59.9}, {"s": "LV-Oljy-meno", "t": "2023-11-18T12:55", "v": 59.7}, {"s": "LV-Oljy-meno", "t": "2023-11-18T13:15", "v": 59.4},
      {"s": "LV-Oljy-meno", "t": "2023-11-18T13:35", "v": 59.2}, {"s": "LV-Oljy-meno", "t": "2023-11-18T13:55", "v": 59.0}, {"s": "LV-Oljy-meno", "t": "2023-11-18T14:15", "v": 58.8}, {"s": "LV-Oljy-meno", "t": "2023-11-18T14:35", "v": 58.5},
      {"s": "LV-Oljy-meno", "t": "2023-11-18T14:50", "v": 58.2}, {"s": "LV-Oljy-meno", "t": "2023-11-18T15:05", "v": 57.8}, {"s": "LV-Oljy-meno", "t": "2023-11-18T15:14", "v": 58.5}, {"s": "LV-Oljy-meno", "t": "2023-11-18T15:18", "v": 60.5},
      {"s": "LV-Oljy-meno", "t": "2023-11-18T15:23", "v": 62.2}, {"s": "LV-Oljy-meno", "t": "2023-11-18T15:30", "v": 63.0}, {"s": "LV-Oljy-meno", "t": "2023-11-18T15:40", "v": 63.3}, {"s": "LV-Oljy-meno", "t": "2023-11-18T15:50", "v": 63.5},
      {"s": "LV-Oljy-meno", "t": "2023-11-18T16:55", "v": 63.3}, {"s": "LV-Oljy-meno", "t": "2023-11-18T17:10", "v": 63.1}, {"s": "LV-Oljy-meno", "t": "2023-11-18T17:30", "v": 62.9}, {"s": "LV-Oljy-meno", "t": "2023-11-18T17:50", "v": 62.6},
      {"s": "LV-Oljy-meno", "t": "2023-11-18T18:10", "v": 62.3}, {"s": "LV-Oljy-meno", "t": "2023-11-18T18:30", "v": 62.0}, {"s": "LV-Oljy-meno", "t": "2023-11-18T18:50", "v": 61.8}, {"s": "LV-Oljy-meno", "t": "2023-11-18T19:10", "v": 61.5},
      {"s": "LV-Oljy-meno", "t": "2023-11-18T19:30", "v": 61.2}, {"s": "LV-Oljy-meno", "t": "2023-11-18T19:50", "v": 61.0}, {"s": "LV-Oljy-meno", "t": "2023-11-18T20:10", "v": 60.8}, {"s": "LV-Oljy-meno", "t": "2023-11-18T20:30", "v": 60.5},
      {"s": "LV-Oljy-meno", "t": "2023-11-18T20:50", "v": 60.3}, {"s": "LV-Oljy-meno", "t": "2023-11-18T21:10", "v": 60.0}, {"s": "LV-Oljy-meno", "t": "2023-11-18T21:30", "v": 59.8}, {"s": "LV-Oljy-meno", "t": "2023-11-18T21:50", "v": 59.6},
      {"s": "LV-Oljy-meno", "t": "2023-11-18T22:10", "v": 59.3}, {"s": "LV-Oljy-meno", "t": "2023-11-18T22:30", "v": 59.0}, {"s": "LV-Oljy-meno", "t": "2023-11-18T22:45", "v": 58.8}, {"s": "LV-Oljy-meno", "t": "2023-11-18T23:00", "v": 58.6},
      {"s": "LV-Oljy-meno", "t": "2023-11-18T23:15", "v": 58.3}, {"s": "LV-Oljy-meno", "t": "2023-11-18T23:16", "v": 58.3}
    ]
  },
  "mark": {"type": "line", "interpolate": "step-after", "strokeWidth": 1.5},
  "encoding": {
    "x": {
      "field": "t",
      "type": "temporal",
      "title": null,
      "axis": {
        "tickCount": 24,
        "labelExpr": "hours(datum.value) == 0 ? timeFormat(datum.value, '%b %d') : timeFormat(datum.value, '%H:%M')",
        "labelFontWeight": {"condition": {"test": "hours(datum.value) == 0", "value": "bold"}, "value": "normal"},
        "labelFlush": false,
        "labelOverlap": false,
        "grid": true
      }
    },
    "y": {
      "field": "v",
      "type": "quantitative",
      "title": "°C",
      "scale": {"domain": [55, 75], "nice": false, "zero": false},
      "axis": {"values": [55, 60, 65, 70, 75], "grid": true, "titlePadding": 10}
    },
    "color": {
      "field": "s",
      "type": "nominal",
      "scale": {"range": ["#44739e"]},
      "legend": {
        "orient": "none",
        "legendX": 614,
        "legendY": -32,
        "title": null,
        "symbolType": "circle",
        "symbolSize": 200,
        "symbolFillColor": "#a0b4c9",
        "symbolStrokeColor": "#44739e",
        "symbolStrokeWidth": 1.5,
        "labelFont": "Roboto",
        "labelFontSize": 13,
        "labelColor": "#666666",
        "labelOffset": 7
      }
    }
  }
}
